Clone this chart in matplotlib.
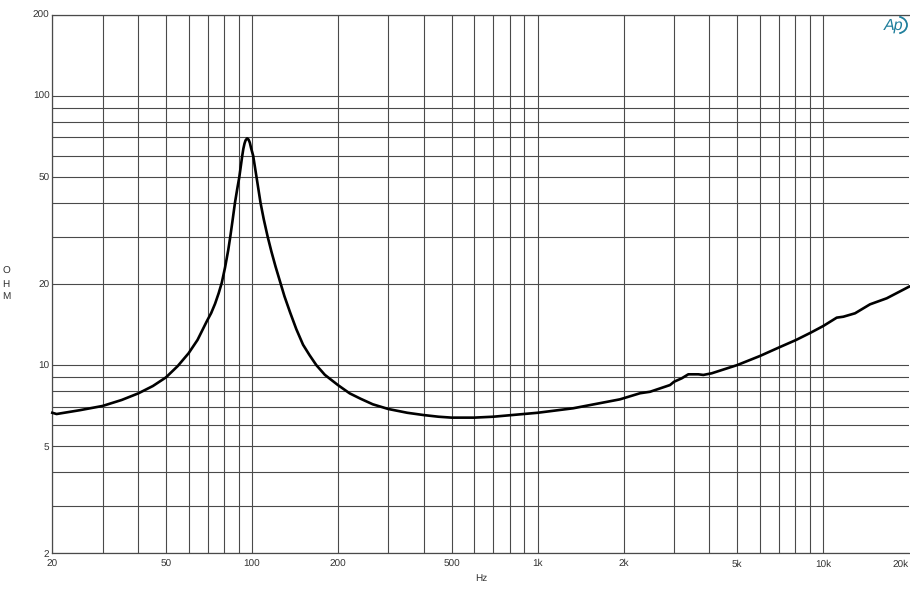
import matplotlib
matplotlib.use("Agg")
import matplotlib.pyplot as plt
from matplotlib.patches import Arc
from matplotlib.transforms import IdentityTransform

# Impedance curve
freq_hz = [20, 20.7, 25, 30, 35, 40, 45, 50, 55, 60, 64.5, 69.4, 72, 74.3, 76.5, 78.4, 80.5, 82.6, 84, 85.5, 87.2,
           88.8, 90.3, 92.5, 93.3, 94.2, 95, 96.2, 97.3, 98.3, 99.3, 101, 103.8, 107.2, 110, 113.5, 117, 121, 126,
           130, 136, 143, 151, 159, 168, 180, 200, 220, 240, 265, 300, 350, 400, 450, 500, 600, 700, 1000, 1332,
           1944, 2286, 2478, 2910, 3006, 3198, 3373, 3656, 3807, 4072, 5004, 6012, 7024, 8035, 9045, 10015, 11160,
           11770, 12935, 14595, 16700, 20000]
impedance_ohm = [6.65, 6.58, 6.8, 7.05, 7.42, 7.85, 8.36, 9.0, 9.92, 11.06, 12.4, 14.5, 15.6, 16.9, 18.5, 20.2, 23,
                 26.7, 30, 34.3, 40, 45, 49.8, 59.9, 63.5, 66.5, 68.3, 69.5, 68.8, 67, 64, 59.9, 49.8, 40, 34.8, 30,
                 26.4, 23.2, 20.1, 18, 15.7, 13.6, 11.9, 10.9, 10, 9.2, 8.43, 7.85, 7.5, 7.15, 6.87, 6.65, 6.52, 6.43,
                 6.38, 6.38, 6.43, 6.65, 6.91, 7.46, 7.86, 7.96, 8.43, 8.67, 8.93, 9.24, 9.24, 9.19, 9.32, 10.0, 10.81,
                 11.64, 12.39, 13.19, 13.97, 15.0, 15.12, 15.57, 16.81, 17.7, 19.55]

x_labelled = [20, 50, 100, 200, 500, 1000, 2000, 5000, 10000, 20000]
x_labels = ["20", "50", "100", "200", "500", "1k", "2k", "5k", "10k", "20k"]
x_unlabelled = [30, 40, 60, 70, 80, 90, 300, 400, 600, 700, 800, 900, 3000, 4000, 6000, 7000, 8000, 9000]

y_labelled = [2, 5, 10, 20, 50, 100, 200]
y_labels = ["2", "5", "10", "20", "50", "100", "200"]
y_unlabelled = [3, 4, 6, 7, 8, 9, 30, 40, 60, 70, 80, 90]

plt.rcParams["font.family"] = ["Liberation Sans", "DejaVu Sans"]
plt.rcParams["text.hinting"] = "no_hinting"

WIDTH, HEIGHT = 910, 600
AXES_WIDTH, AXES_HEIGHT = 856.8, 538.6
GRID_COLOUR = "#4a4a4a"
TEXT_COLOUR = "#333333"
LOGO_COLOUR = "#1f7f9c"
FONT_SIZE = 7.2

figure = plt.figure(figsize=(WIDTH / 100, HEIGHT / 100), dpi=100)
axes = figure.add_axes([52.3 / WIDTH, 1 - 553.3 / HEIGHT, AXES_WIDTH / WIDTH, AXES_HEIGHT / HEIGHT])

axes.set_xscale("log")
axes.set_yscale("log")
axes.set_xlim(20, 20000)
axes.set_ylim(2, 200)

# Ticks and labels, the unlabelled ones only carry grid lines
axes.set_xticks(x_labelled, x_labels)
axes.set_xticks(x_unlabelled, [""] * len(x_unlabelled), minor=True)
axes.set_yticks(y_labelled, y_labels)
axes.set_yticks(y_unlabelled, [""] * len(y_unlabelled), minor=True)
axes.tick_params(axis="both", which="both", length=0, labelsize=FONT_SIZE, labelcolor=TEXT_COLOUR)
axes.tick_params(axis="x", which="major", pad=9.5)
axes.tick_params(axis="y", which="major", pad=2)
for label in axes.get_xticklabels():
    label.set_verticalalignment("baseline")
axes.get_xticklabels()[-1].set_horizontalalignment("right")

axes.grid(True, which="both", color=GRID_COLOUR, linewidth=0.8)
axes.set_axisbelow(True)
axes.xaxis.get_major_ticks()[-1].gridline.set_visible(False)
for spine in axes.spines.values():
    spine.set_color(GRID_COLOUR)
    spine.set_linewidth(0.9)
axes.spines["right"].set_visible(False)

axes.plot(freq_hz, impedance_ohm, color="black", linewidth=1.9, zorder=3, clip_on=False)

axes.set_xlabel("Hz", fontsize=FONT_SIZE, color=TEXT_COLOUR)
axes.xaxis.set_label_coords((481 - 52.3) / AXES_WIDTH, -(578 - 553.3) / AXES_HEIGHT)
axes.xaxis.label.set_verticalalignment("center")
axes.set_ylabel("O\nH\nM", rotation=0, fontsize=FONT_SIZE, color=TEXT_COLOUR, linespacing=1.4, ha="center", va="center")
axes.yaxis.set_label_coords((6 - 52.3) / AXES_WIDTH, (553.3 - 284) / AXES_HEIGHT)

# Ap logo in the top right corner
figure.text(894 / WIDTH, 1 - 26 / HEIGHT, "Ap", fontsize=11.5, style="italic", color=LOGO_COLOUR, ha="center", va="center")
figure.add_artist(Arc((897, HEIGHT - 25), 20, 17, theta1=-75, theta2=75, color=LOGO_COLOUR, linewidth=1.3,
                      transform=IdentityTransform()))

figure.savefig("out.png", dpi=100)
